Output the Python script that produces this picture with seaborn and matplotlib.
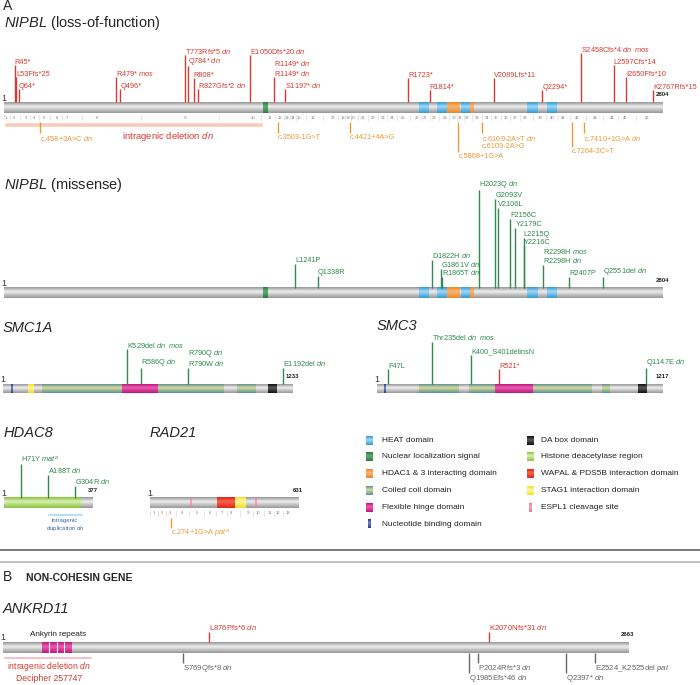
import numpy as np
import matplotlib
matplotlib.use("Agg")
import matplotlib.pyplot as plt
from matplotlib.colors import LinearSegmentedColormap
import seaborn as sns

# ---------------- data (amino-acid positions) ----------------
nipbl_len = 2804
nipbl_domains = [(1105, 1125, "nls"), (1768, 1807, "heat"), (1845, 1888, "heat"),
                 (1888, 1943, "hdac13"), (1947, 1986, "heat"), (1986, 2003, "hdac13"),
                 (2228, 2271, "heat"), (2314, 2356, "heat")]
nipbl_exon_mid = [9, 43, 94, 128, 170, 226, 268, 396, 771, 1061, 1133, 1176, 1206, 1231,
                  1257, 1316, 1402, 1444, 1466, 1487, 1530, 1572, 1615, 1653, 1700, 1760,
                  1794, 1832, 1879, 1917, 1943, 1973, 2015, 2058, 2096, 2139, 2177, 2220,
                  2284, 2335, 2382, 2441, 2518, 2590, 2646, 2740]
nipbl_deletion = (0, 1104)

lof_labels = ["R45*", "L53Ffs*25", "Q64*", "R479* mos", "Q496*", "T773Rfs*5 dn", "Q784* dn",
              "R808*", "R827Gfs*2 dn", "E1050Dfs*20 dn", "R1149* dn\nR1149* dn", "S1197* dn",
              "R1723*", "R1814*", "V2089Lfs*11", "Q2294*", "S2458Cfs*4 dn  mos",
              "L2597Cfs*14", "I2650Ffs*10", "K2767Rfs*15"]
lof_pos = [45, 53, 64, 479, 496, 773, 784, 808, 827, 1050, 1149, 1197, 1723, 1814, 2089,
           2294, 2458, 2597, 2650, 2767]
lof_stem = [37, 25, 13, 25, 13, 47, 36, 24, 13, 47, 25, 13, 24, 12, 24, 12, 49, 37, 25, 12]

splice_labels = ["c.458+3A>C dn", "c.3503-1G>T", "c.4421+4A>G", "c.5808+1G>A",
                 "c.6109-2A>T dn\nc.6109-2A>G", "c.7264-3C>T", "c.7410+1G>A dn"]
splice_pos = [153, 1168, 1474, 1936, 2036, 2421, 2470]
splice_stem = [11, 11, 11, 30, 11, 25, 11]

mis_labels = ["L1241P", "Q1338R", "D1822H dn", "G1861V dn", "R1865T dn", "H2023Q dn",
              "G2093V", "V2106L", "F2156C", "Y2179C", "L2215Q", "Y2216C",
              "R2298H mos\nR2298H dn", "R2407P", "Q2551del dn"]
mis_pos = [1241, 1338, 1822, 1861, 1865, 2023, 2093, 2106, 2156, 2179, 2215, 2216, 2298,
           2407, 2551]
mis_stem = [24, 12, 28, 19, 11, 98, 89, 80, 69, 60, 50, 42, 23, 11, 11]

smc1a_len = 1233
smc1a_domains = [(34, 42, "nbd"), (106, 128, "stag1"), (166, 507, "cc"), (507, 661, "hinge"),
                 (661, 938, "cc"), (997, 1074, "cc"), (1129, 1167, "dabox")]
smc1a_labels = ["K529del dn  mos", "R586Q dn", "R790Q dn\nR790W dn", "E1192del dn"]
smc1a_pos = [529, 586, 790, 1192]
smc1a_stem = [35, 16, 16, 16]

smc3_len = 1217
smc3_domains = [(30, 38, "nbd"), (179, 349, "cc"), (392, 503, "cc"), (503, 665, "hinge"),
                (665, 916, "cc"), (959, 989, "cc"), (1112, 1150, "dabox")]
smc3_labels = ["F47L", "Thr235del dn  mos", "K400_S401delinsN", "R521*", "Q1147E dn"]
smc3_pos = [47, 235, 400, 521, 1147]
smc3_stem = [15, 42, 29, 15, 16]
smc3_kind = ["mis", "mis", "mis", "lof", "mis"]

hdac8_len = 377
hdac8_domains = [(4, 324, "hdac")]
hdac8_labels = ["H71Y mat^a", "A188T dn", "G304R dn"]
hdac8_pos = [71, 188, 304]
hdac8_stem = [34, 23, 12]
hdac8_dup = (183, 337)

rad21_len = 631
rad21_domains = [(169, 174, "espl1"), (286, 362, "wapal"), (362, 405, "stag1"),
                 (446, 451, "espl1")]
rad21_exon_mid = [17, 51, 85, 136, 200, 256, 307, 345, 418, 460, 511, 545, 588]
rad21_splice_label = "c.274+1G>A pat^a"
rad21_splice_pos = 91

ankrd11_len = 2663
ankyrin_repeats = [(166, 197), (197, 228), (228, 259), (259, 290)]
ankrd11_deletion = (0, 379)
ank_up_labels = ["L876Pfs*6 dn", "K2070Nfs*31 dn"]
ank_up_pos = [876, 2070]
ank_down_labels = ["S769Qfs*8 dn", "Q1985Efs*46 dn", "P2024Rfs*3 dn", "Q2397* dn",
                   "E2524_K2525del pat"]
ank_down_pos = [769, 1985, 2024, 2397, 2524]
ank_down_stem = [10, 20, 10, 20, 10]

legend_left = ["HEAT domain", "Nuclear localization signal", "HDAC1 & 3 interacting domain",
               "Coiled coil domain", "Flexible hinge domain", "Nucleotide binding domain"]
legend_left_kind = ["heat", "nls", "hdac13", "cc", "hinge", "nbd"]
legend_right = ["DA box domain", "Histone deacetylase region",
                "WAPAL & PDS5B interaction domain", "STAG1 interaction domain",
                "ESPL1 cleavage site"]
legend_right_kind = ["dabox", "hdac", "wapal", "stag1", "espl1"]

# ---------------- style ----------------
sns.set_theme(style="white")
plt.rcParams["font.family"] = ["Liberation Sans", "DejaVu Sans"]
plt.rcParams["mathtext.fontset"] = "custom"
plt.rcParams["mathtext.it"] = "Liberation Sans:italic"
plt.rcParams["mathtext.rm"] = "Liberation Sans"

RED, GREEN, ORANGE, GREY = "#d63a30", "#2f8a4c", "#eb9a38", "#666666"
BAR = ("#979797", "#efefef")
STYLE = {"heat": ("#2f9ad8", "#a3d9f5"), "nls": ("#2c7a44", "#5fae70"),
         "hdac13": ("#ef862a", "#f8b878"), "cc": ("#4e94a2", "#e6d78e"),
         "hinge": ("#c4137c", "#e85fb0"), "nbd": ("#27408f", "#7186c6"),
         "dabox": ("#0f0f0f", "#5a5a5a"), "hdac": ("#8cc43e", "#d8f0b0"),
         "wapal": ("#df2419", "#f5654c"), "stag1": ("#f2df2a", "#fff7a2"),
         "espl1": ("#e8788f", "#f4aabb")}
W, H = 700, 685
AA = 0.2347  # pixels per amino acid, identical for every gene
LAB = 5.3
GRAD = np.linspace(0, 1, 48)[:, None]
ITAL = ("dn", "mos", "mat", "pat")


def fmt(s):
    out = []
    for line in s.split("\n"):
        words = []
        for w in line.split(" "):
            base, _, sup = w.partition("^")
            if base in ITAL:
                w = r"$\mathit{%s}$" % base if not sup else r"$\mathit{%s}^{%s}$" % (base, sup)
            words.append(w)
        out.append(" ".join(words))
    return "\n".join(out)


def tube(ax, x0, x1, y0, y1, edge, mid, z=1):
    cmap = LinearSegmentedColormap.from_list("tube", [(0, edge), (0.4, mid), (1, edge)])
    ax.imshow(GRAD, cmap=cmap, extent=(x0, x1, y1, y0), aspect="auto",
              interpolation="bilinear", zorder=z)


fig = plt.figure(figsize=(W / 100, H / 100), dpi=100)
ov = fig.add_axes([0, 0, 1, 1])
ov.set_xlim(0, W)
ov.set_ylim(H, 0)
ov.axis("off")


def track(x0, yc, length):
    ax = fig.add_axes([x0 / W, 1 - (yc + 140) / H, length * AA / W, 280 / H])
    ax.set_xlim(0, length)
    ax.set_ylim(140, -140)
    ax.axis("off")
    return ax


def protein(ax, length, h, domains):
    tube(ax, 0, length, -h / 2, h / 2, *BAR)
    for a, b, kind in domains:
        tube(ax, a, b, -h / 2, h / 2, *STYLE[kind], z=2)
    ax.text(0, -h / 2 + 0.5, "1", fontsize=6.5, color="#333333", ha="center", va="bottom")
    ax.vlines(length, -h / 2 - 5, -h / 2, color="#333333", lw=0.7)
    ax.text(length, -h / 2 - 5, str(length), fontsize=4.3, weight="bold", color="#222222",
            ha="center", va="bottom")


def stems_up(ax, pos, stem, labels, colors, h, fs=LAB):
    top = -h / 2
    ax.vlines(pos, top - np.array(stem), top, colors=colors, lw=1, zorder=3)
    for p, s, lab, c in zip(pos, stem, labels, colors):
        ax.text(p, top - s + 0.5, fmt(lab), color=c, fontsize=fs, ha="left", va="bottom",
                linespacing=1.05)


def stems_down(ax, pos, stem, labels, color, start, fs=LAB):
    ax.vlines(pos, start, start + np.array(stem), color=color, lw=1, zorder=3)
    for p, s, lab in zip(pos, stem, labels):
        ax.text(p, start + s + 0.5, fmt(lab), color=color, fontsize=fs, ha="left", va="top",
                linespacing=1.1)


def exon_row(ax, mids, length, y, fs=3.0):
    bounds = [0] + [(a + b) / 2 for a, b in zip(mids[:-1], mids[1:])] + [length]
    ax.vlines(bounds, y - 2.5, y + 2.5, color="#9a9a9a", lw=0.4, linestyles=(0, (1, 1)))
    for i, m in enumerate(mids, 1):
        ax.text(m, y, str(i), fontsize=fs, color="#7a7a7a", ha="center", va="center")


# ---------------- NIPBL loss-of-function ----------------
ov.text(3, 10, "A", fontsize=10, va="baseline")
ov.text(4, 27, r"$\mathit{NIPBL}$ (loss-of-function)", fontsize=10.5, va="baseline")
ax = track(4, 107.5, nipbl_len)
protein(ax, nipbl_len, 11, nipbl_domains)
stems_up(ax, lof_pos, lof_stem, lof_labels, [RED] * len(lof_pos), 11)
exon_row(ax, nipbl_exon_mid, nipbl_len, 10)
ax.barh(17, nipbl_deletion[1] - nipbl_deletion[0], left=nipbl_deletion[0], height=5,
        color="#f9cbb9", zorder=1)
ax.text(700, 28.5, fmt("intragenic deletion dn"), color=RED, fontsize=6.8,
        ha="center", va="center")
stems_down(ax, splice_pos, splice_stem, splice_labels, ORANGE, 14.5)

# ---------------- NIPBL missense ----------------
ov.text(4, 189, r"$\mathit{NIPBL}$ (missense)", fontsize=10.5, va="baseline")
ax = track(4, 293, nipbl_len)
protein(ax, nipbl_len, 11, nipbl_domains)
stems_up(ax, mis_pos, mis_stem, mis_labels, [GREEN] * len(mis_pos), 11)

# ---------------- SMC1A / SMC3 ----------------
ov.text(3, 332, "SMC1A", fontsize=10.5, style="italic", va="baseline")
ax = track(3, 388.5, smc1a_len)
protein(ax, smc1a_len, 9, smc1a_domains)
stems_up(ax, smc1a_pos, smc1a_stem, smc1a_labels, [GREEN] * len(smc1a_pos), 9)

ov.text(377, 330, "SMC3", fontsize=10.5, style="italic", va="baseline")
ax = track(377, 388.5, smc3_len)
protein(ax, smc3_len, 9, smc3_domains)
stems_up(ax, smc3_pos, smc3_stem, smc3_labels,
         [RED if k == "lof" else GREEN for k in smc3_kind], 9)

# ---------------- HDAC8 / RAD21 ----------------
ov.text(4, 437, "HDAC8", fontsize=10.5, style="italic", va="baseline")
ax = track(4, 503, hdac8_len)
protein(ax, hdac8_len, 11, hdac8_domains)
stems_up(ax, hdac8_pos, hdac8_stem, hdac8_labels, [GREEN] * len(hdac8_pos), 11)
ax.barh(11.5, hdac8_dup[1] - hdac8_dup[0], left=hdac8_dup[0], height=3,
        color="#a9d8f0", zorder=1)
ax.text(sum(hdac8_dup) / 2, 15, fmt("intragenic\nduplication dn"), color="#3a67a6",
        fontsize=4.3, ha="center", va="top", multialignment="center", linespacing=1.1)

ov.text(150, 437, "RAD21", fontsize=10.5, style="italic", va="baseline")
ax = track(150, 503, rad21_len)
protein(ax, rad21_len, 11, rad21_domains)
exon_row(ax, rad21_exon_mid, rad21_len, 10)
stems_down(ax, [rad21_splice_pos], [10], [rad21_splice_label], ORANGE, 15)

# ---------------- legend ----------------
for col, (labels, kinds, px, tx) in enumerate([(legend_left, legend_left_kind, 366, 382),
                                                (legend_right, legend_right_kind, 527, 541)]):
    for i, (lab, kind) in enumerate(zip(labels, kinds)):
        y = 440 + 16.8 * i
        wdt = 3 if kind in ("nbd", "espl1") else 7
        x0 = px + (2 if wdt == 3 else 0)
        tube(ov, x0, x0 + wdt, y - 4.5, y + 4.5, *STYLE[kind], z=2)
        ov.text(tx, y, lab, fontsize=6.0, color="#222222", va="center")

ov.axhline(550, color="#6e6e6e", lw=1.3)
ov.axhline(562, color="#b8b8b8", lw=1.2)

# ---------------- ANKRD11 ----------------
ov.text(3, 581, "B", fontsize=10, va="baseline")
ov.text(26, 581, "NON-COHESIN GENE", fontsize=7.5, weight="bold", va="baseline")
ov.text(3, 613, "ANKRD11", fontsize=10.5, style="italic", va="baseline")
ax = track(3, 647.5, ankrd11_len)
protein(ax, ankrd11_len, 11, [(a, b, "hinge") for a, b in ankyrin_repeats])
ax.vlines([b for a, b in ankyrin_repeats[:-1]], -5.5, 5.5, color="white", lw=0.8, zorder=3)
ax.text(234, -12, "Ankyrin repeats", fontsize=5.9, color="#222222", ha="center",
        va="baseline")
ax.barh(10, ankrd11_deletion[1] - ankrd11_deletion[0], left=ankrd11_deletion[0], height=3,
        color="#f3b3c2", zorder=1)
ax.text(195, 12.5, fmt("intragenic deletion dn") + "\nDecipher 257747", color=RED,
        fontsize=6.2, ha="center", va="top", multialignment="center", linespacing=1.1)
stems_up(ax, ank_up_pos, [10, 10], ank_up_labels, [RED, RED], 11, fs=5.6)
stems_down(ax, ank_down_pos, ank_down_stem, ank_down_labels, GREY, 5.5, fs=5.6)

fig.savefig("out.png", dpi=100)
